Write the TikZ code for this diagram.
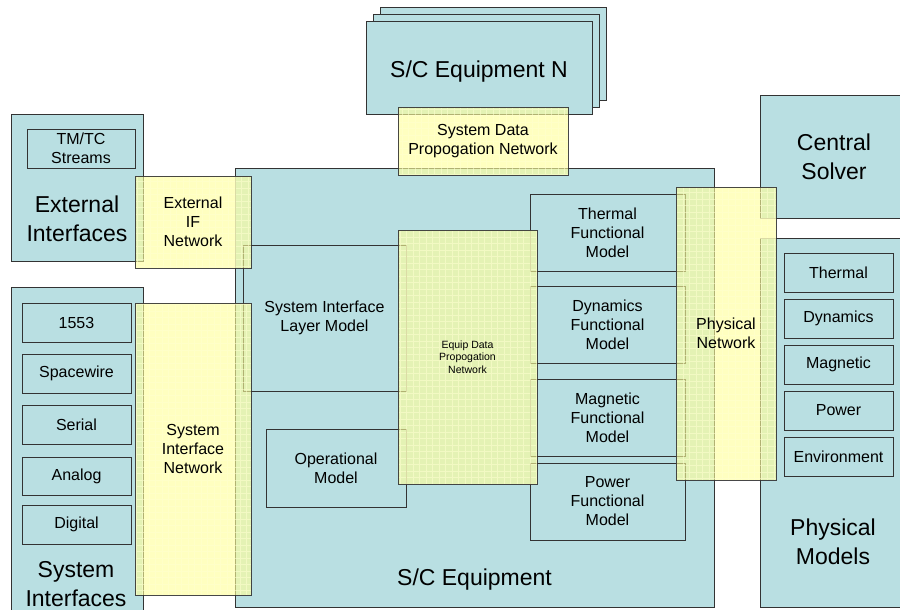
\documentclass[tikz,border=0pt]{standalone}
\usepackage{fontspec}
\setmainfont{Liberation Sans}
\definecolor{boxblue}{HTML}{B9DFE2}
\definecolor{netyellow}{HTML}{FFFF99}
\definecolor{edge}{HTML}{333333}
\definecolor{gridyellow}{HTML}{FFFFD0}

\tikzset{
  blk/.style={draw=edge, line width=0.9pt, fill=boxblue, inner sep=0pt},
  net/.style={draw=edge, line width=0.9pt, fill=netyellow, fill opacity=0.62,
    draw opacity=0.9, text opacity=1, inner sep=0pt,
    path picture={\draw[gridyellow, line width=0.45pt, opacity=0.55]
      (path picture bounding box.south west) grid[step=6.5pt]
      (path picture bounding box.north east);}},
  big/.style={font=\fontsize{23}{29.5}\selectfont, align=center, inner sep=0pt},
  mid/.style={font=\fontsize{16}{19}\selectfont, align=center},
  small/.style={font=\fontsize{10.5}{12.7}\selectfont, align=center},
}

% \areabox{style}{name}{x1}{y1}{x2}{y2}{text}: rectangle between two corners
\newcommand\areabox[7]{%
  \node[#1, minimum width={(#5-#3)*1pt}, minimum height={(#6-#4)*1pt}]
    (#2) at ({(#3+#5)/2},{(#4+#6)/2}) {#7};}

\begin{document}
\begin{tikzpicture}[x=1pt, y=-1pt]
\useasboundingbox (0,0) rectangle (900,610);
\clip (0,0) rectangle (900,610);

% stacked equipment units
\areabox{blk}{eqback}{380}{7}{606}{100}{}
\areabox{blk}{eqmid}{373}{14}{599}{107}{}
\areabox{blk}{eqfront}{366}{21}{592}{114}{}
\node[big] (eqNtext) at (479,72) {S/C Equipment N};

% external interfaces
\areabox{blk}{extif}{11}{114}{143}{261}{}
\areabox{blk,mid}{tmtc}{27}{129}{135}{168}{TM/TC\\Streams}
\node[big] (extiftext) at (77,219) {External\\Interfaces};

% system interfaces
\areabox{blk}{sysif}{11}{287}{143}{620}{}
\areabox{blk,mid}{b1553}{22}{303}{131}{342}{1553}
\areabox{blk,mid}{bspw}{22}{354}{131}{393}{Spacewire}
\areabox{blk,mid}{bser}{22}{405}{131}{444}{Serial}
\areabox{blk,mid}{bana}{22}{457}{131}{495}{Analog}
\areabox{blk,mid}{bdig}{22}{505}{131}{544}{Digital}
\node[big] (sysiftext) at (76,584) {System\\Interfaces};

% spacecraft equipment
\areabox{blk}{sce}{235}{168}{714}{607}{}
\node[big] (scetext) at (474.5,580) {S/C Equipment};
\areabox{blk,mid}{silm}{243}{245}{406}{391}{System Interface\\Layer Model}
\areabox{blk,mid}{opm}{266}{429}{406}{507}{Operational\\Model}
\areabox{blk,mid}{thfm}{530}{194}{685}{271}{Thermal\\Functional\\Model}
\areabox{blk,mid}{dyfm}{530}{286}{685}{363}{Dynamics\\Functional\\Model}
\areabox{blk,mid}{mgfm}{530}{379}{685}{456}{Magnetic\\Functional\\Model}
\areabox{blk,mid}{pwfm}{530}{463}{685}{540}{Power\\Functional\\Model}

% solver and physical models
\areabox{blk}{solver}{760}{95}{910}{218}{}
\node[big] (solvertext) at (834,157) {Central\\Solver};
\areabox{blk}{phys}{760}{238}{910}{607}{}
\node[big] (phystext) at (833,542) {Physical\\Models};
\areabox{blk,mid}{pth}{784}{253}{893}{292}{Thermal}
\areabox{blk,mid}{pdy}{784}{299}{893}{338}{Dynamics}
\areabox{blk,mid}{pmg}{784}{345}{893}{384}{Magnetic}
\areabox{blk,mid}{ppw}{784}{391}{893}{430}{Power}
\areabox{blk,mid}{pen}{784}{437}{893}{476}{Environment}

% networks
\areabox{net,mid}{sdpn}{398}{107}{568}{175}{System Data\\Propogation Network}
\areabox{net,mid}{extnet}{135}{176}{251}{268}{External\\IF\\Network}
\areabox{net,mid}{sysnet}{135}{303}{251}{595}{System\\Interface\\Network}
\areabox{net,small}{eqnet}{398}{230}{537}{484}{Equip Data\\Propogation\\Network}
\areabox{net,mid}{physnet}{676}{187}{776}{480}{Physical\\Network}
\end{tikzpicture}
\end{document}
